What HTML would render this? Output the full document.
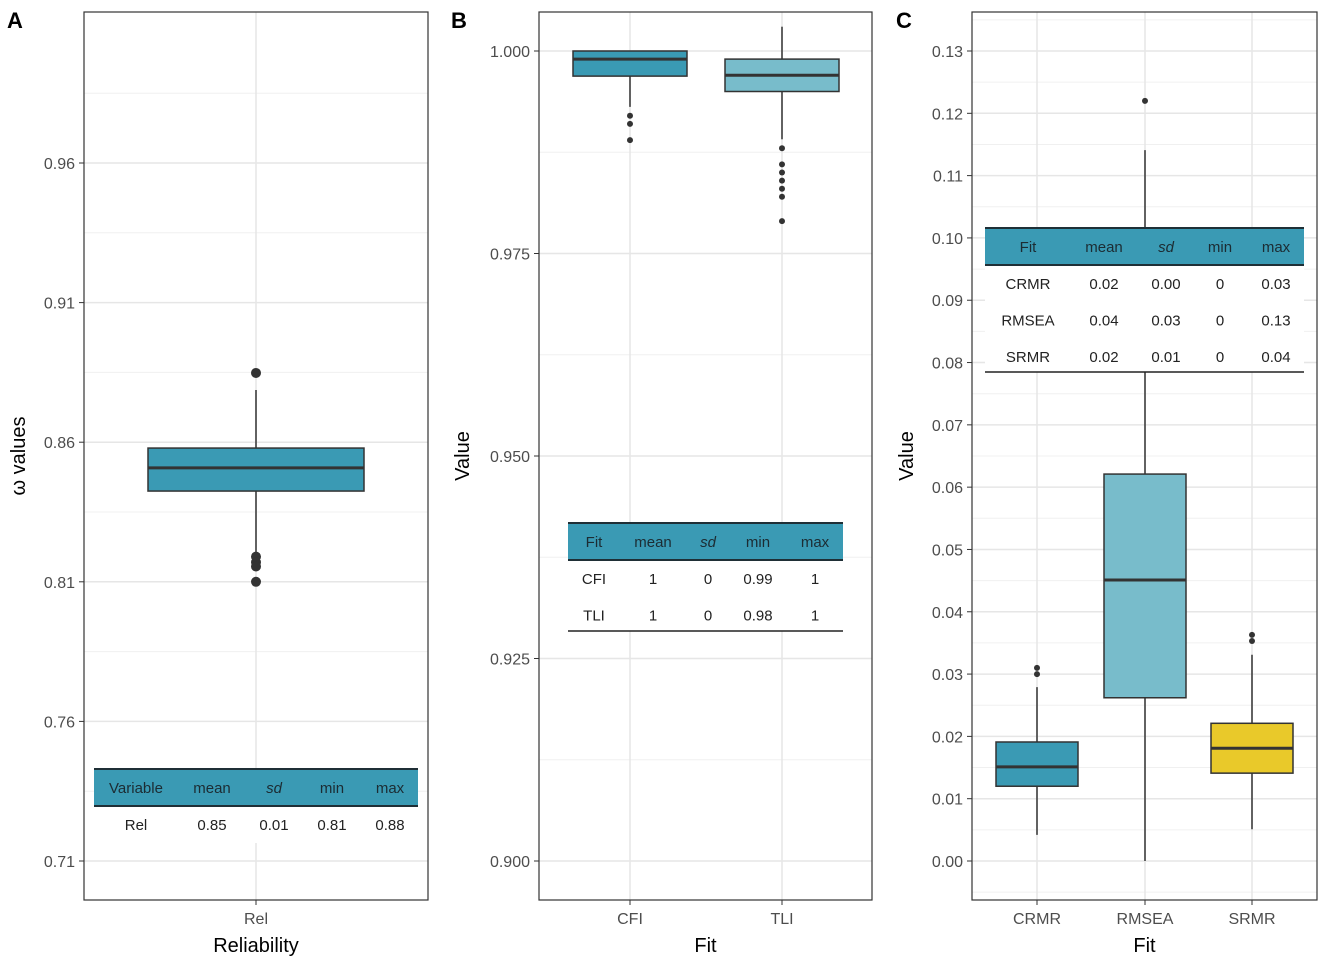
<!DOCTYPE html>
<html><head><meta charset="utf-8"><style>
body{margin:0;background:#fff}
svg{display:block;font-family:"Liberation Sans",sans-serif}
</style></head><body>
<svg id="chart" width="1325" height="963" viewBox="0 0 1325 963" xmlns="http://www.w3.org/2000/svg"></svg>
<script>
// Panel A data
const aCategories = ["Rel"];
const aTicks = [0.71, 0.76, 0.81, 0.86, 0.91, 0.96];
const aStats = [[0.819, 0.8425, 0.8508, 0.8579, 0.8787]];
const aOutliers = [[0.8848, 0.819, 0.817, 0.8155, 0.81]];
// Panel B data
const bCategories = ["CFI", "TLI"];
const bTicks = [0.900, 0.925, 0.950, 0.975, 1.000];
const bStats = [[0.9931, 0.9969, 0.999, 1.000, 1.000], [0.9891, 0.995, 0.997, 0.999, 1.003]];
const bOutliers = [[0.992, 0.991, 0.989], [0.988, 0.986, 0.985, 0.984, 0.983, 0.982, 0.979]];
// Panel C data
const cCategories = ["CRMR", "RMSEA", "SRMR"];
const cTicks = [0.00, 0.01, 0.02, 0.03, 0.04, 0.05, 0.06, 0.07, 0.08, 0.09, 0.10, 0.11, 0.12, 0.13];
const cStats = [[0.0042, 0.012, 0.0151, 0.0191, 0.0279], [0, 0.0262, 0.0451, 0.0621, 0.1141], [0.0051, 0.0141, 0.0181, 0.0221, 0.0331]];
const cOutliers = [[0.031, 0.030], [0.122], [0.0363, 0.0353]];

const NS = "http://www.w3.org/2000/svg";
const svg = document.getElementById("chart");
function mk(tag, attrs, parent, text) {
  const e = document.createElementNS(NS, tag);
  for (const k in attrs) e.setAttribute(k, attrs[k]);
  if (text !== undefined) e.textContent = text;
  (parent || svg).appendChild(e);
  return e;
}

function panel(cfg) {
  const g = mk("g", {});
  
  
  const {x0, x1, y0, y1, vA, yA, vB, yB} = cfg;
  const y = v => yA + (v - vA) * (yB - yA) / (vB - vA);
  // grid
  const step = cfg.ticks[1] - cfg.ticks[0];
  for (let i = -1; i < cfg.ticks.length + 1; i++) {
    const v = cfg.ticks[0] + (i + 0.5) * step;
    const py = y(v);
    if (py > y0 && py < y1) mk("line", {x1: x0, x2: x1, y1: py, y2: py, stroke: "#f0f0f0", "stroke-width": 1}, g);
  }
  cfg.ticks.forEach(t => {
    const py = y(t);
    const gl = mk("line", {x1: x0, x2: x1, y1: py, y2: py, stroke: "#e6e6e6", "stroke-width": 1.5}, g);
    
    
    mk("line", {x1: x0 - 5, x2: x0, y1: py, y2: py, stroke: "#333", "stroke-width": 1}, g);
    const tl = mk("text", {x: x0 - 9, y: py + 6, "text-anchor": "end", "font-size": 16, fill: "#4d4d4d"}, g, t.toFixed(cfg.dec));
    
    
  });
  cfg.xs.forEach(cx => mk("line", {x1: cx, x2: cx, y1: y0, y2: y1, stroke: "#e6e6e6", "stroke-width": 1.5}, g));
  // boxes
  cfg.cats.forEach((c, i) => {
    const s = cfg.stats[i], cx = cfg.xs[i], hw = cfg.hw;
    const bg = mk("g", {}, g);
    
    
    mk("line", {x1: cx, x2: cx, y1: y(s[0]), y2: y(s[4]), stroke: "#333", "stroke-width": 1.5}, bg);
    mk("rect", {x: cx - hw, y: y(s[3]), width: 2 * hw, height: y(s[1]) - y(s[3]), fill: cfg.colors[i], stroke: "#333", "stroke-width": 1.5}, bg);
    mk("line", {x1: cx - hw, x2: cx + hw, y1: y(s[2]), y2: y(s[2]), stroke: "#333", "stroke-width": 3}, bg);
    cfg.outs[i].forEach(o => {
      const d = mk("circle", {cx: cx, cy: y(o), r: cfg.r, fill: "#333"}, bg);
      
      
    });
    mk("line", {x1: cx, x2: cx, y1: y1, y2: y1 + 5, stroke: "#333"}, g);
    const xl = mk("text", {x: cx, y: y1 + 24, "text-anchor": "middle", "font-size": 16, fill: "#4d4d4d"}, g, c);
    
    
  });
  // table
  const t = cfg.table;
  const tg = mk("g", {}, g);
  
  
  mk("rect", {x: t.x0, y: t.hy, width: t.x1 - t.x0, height: t.bottom - t.hy, fill: "#fff"}, tg);
  mk("rect", {x: t.x0, y: t.hy, width: t.x1 - t.x0, height: 37, fill: "#3a9ab4"}, tg);
  mk("line", {x1: t.x0, x2: t.x1, y1: t.hy, y2: t.hy, stroke: "#1f2f36", "stroke-width": 2}, tg);
  mk("line", {x1: t.x0, x2: t.x1, y1: t.hy + 37, y2: t.hy + 37, stroke: "#1f2f36", "stroke-width": 2}, tg);
  if (t.line) mk("line", {x1: t.x0, x2: t.x1, y1: t.bottom, y2: t.bottom, stroke: "#222", "stroke-width": 1.5}, tg);
  t.head.forEach((h, j) => mk("text", {x: t.cols[j], y: t.hy + 24, "text-anchor": "middle", "font-size": 15, fill: "#1c2c33", "font-style": h === "sd" ? "italic" : "normal"}, tg, h));
  t.rows.forEach((r, k) => r.forEach((v, j) => mk("text", {x: t.cols[j], y: t.hy + 61 + k * 36.5, "text-anchor": "middle", "font-size": 15, fill: "#222"}, tg, v)));
  // frame
  mk("rect", {x: x0, y: y0, width: x1 - x0, height: y1 - y0, fill: "none", stroke: "#333", "stroke-width": 1.2}, g);
  // titles
  const xt = mk("text", {x: (x0 + x1) / 2, y: y1 + 52, "text-anchor": "middle", "font-size": 20, fill: "#000"}, g, cfg.xtitle);
  
  
  const yt = mk("text", {x: 0, y: 0, "text-anchor": "middle", "font-size": 20, fill: "#000", transform: `translate(${cfg.ytx},${(y0 + y1) / 2}) rotate(-90)`}, g, cfg.ytitle);
  
  
  const pl = mk("text", {x: cfg.lx, y: 28, "font-size": 22, "font-weight": "bold", fill: "#000"}, g, cfg.letter);
  
  
}

panel({name: "panel-a-reliability", letter: "A", lx: 7, x0: 84, x1: 428, y0: 12, y1: 900, vA: 0.71, yA: 861, vB: 0.96, yB: 163,
  ticks: aTicks, dec: 2, cats: aCategories, xs: [256], hw: 108, r: 5, stats: aStats, outs: aOutliers, colors: ["#3a9ab4"],
  xtitle: "Reliability", ytitle: "ω values", ytx: 25,
  table: {x0: 94, x1: 418, hy: 769, bottom: 843, line: false, cols: [136, 212, 274, 332, 390],
    head: ["Variable", "mean", "sd", "min", "max"], rows: [["Rel", "0.85", "0.01", "0.81", "0.88"]]}});

panel({name: "panel-b-fit", letter: "B", lx: 451, x0: 539, x1: 872, y0: 12, y1: 900, vA: 0.9, yA: 861, vB: 1.0, yB: 51,
  ticks: bTicks, dec: 3, cats: bCategories, xs: [630, 782], hw: 57, r: 3, stats: bStats, outs: bOutliers, colors: ["#3a9ab4", "#78bccb"],
  xtitle: "Fit", ytitle: "Value", ytx: 469,
  table: {x0: 568, x1: 843, hy: 523, bottom: 631, line: true, cols: [594, 653, 708, 758, 815],
    head: ["Fit", "mean", "sd", "min", "max"], rows: [["CFI", "1", "0", "0.99", "1"], ["TLI", "1", "0", "0.98", "1"]]}});

panel({name: "panel-c-fit", letter: "C", lx: 896, x0: 972, x1: 1317, y0: 12, y1: 900, vA: 0, yA: 861, vB: 0.13, yB: 51,
  ticks: cTicks, dec: 2, cats: cCategories, xs: [1037, 1145, 1252], hw: 41, r: 3, stats: cStats, outs: cOutliers, colors: ["#3a9ab4", "#78bccb", "#e9c92a"],
  xtitle: "Fit", ytitle: "Value", ytx: 913,
  table: {x0: 985, x1: 1304, hy: 228, bottom: 372, line: true, cols: [1028, 1104, 1166, 1220, 1276],
    head: ["Fit", "mean", "sd", "min", "max"], rows: [["CRMR", "0.02", "0.00", "0", "0.03"], ["RMSEA", "0.04", "0.03", "0", "0.13"], ["SRMR", "0.02", "0.01", "0", "0.04"]]}});
</script>
</body></html>
